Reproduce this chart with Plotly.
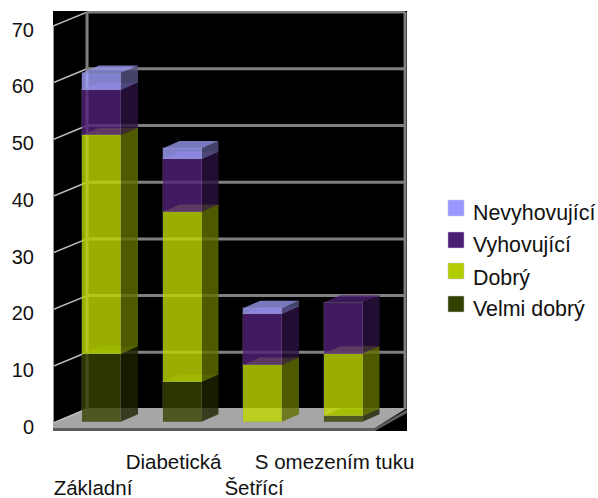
import plotly.graph_objects as go

# Diet types and their stacked ratings
categories = ["Základní", "Diabetická", "Šetřící", "S omezením tuku"]
tick_labels = ["<br>Základní", "Diabetická", "<br>Šetřící", "S omezením tuku"]
velmi_dobry = [12, 7, 0, 1]
dobry = [38.5, 30, 10, 11]
vyhovujici = [8, 9.3, 9, 9]
nevyhovujici = [3, 1.9, 1, 0]
y_ticks = [0, 10, 20, 30, 40, 50, 60, 70]

series_names = ["Velmi dobrý", "Dobrý", "Vyhovující", "Nevyhovující"]
series_values = [velmi_dobry, dobry, vyhovujici, nevyhovujici]
series_rgb = [(54, 68, 0), (191, 218, 0), (81, 33, 122), (162, 162, 255)]
legend_rgb = [(51, 64, 0), (179, 204, 0), (75, 31, 115), (153, 153, 255)]

FACE_ALPHA = 0.8
GRID = "rgb(127,127,127)"

# Pseudo-3D geometry, in axis units
X_MIN, X_MAX = -0.497, 3.9
V_MIN, V_MAX = -1.64, 72.43
WALL_X, WALL_V = 0.4225, 2.47
FRONT_V = -0.23
BACK_V = FRONT_V + WALL_V
BACK_LEFT = X_MIN + WALL_X
BACK_RIGHT = 3.876
FLOOR_RIGHT = 3.503
FLOOR_FRONT = -1.11
BAR_SHIFT, BAR_WIDTH = 0.1056, 0.484
BAR_DX, BAR_DV = 0.211, 1.32


def rgba(rgb, factor=1.0, alpha=1.0):
    r, g, b = (int(c * factor) for c in rgb)
    return f"rgba({r},{g},{b},{alpha})"


def polygon(points, fill, line="rgba(0,0,0,0)", width=0):
    path = "M" + " L".join(f"{x},{y}" for x, y in points) + " Z"
    return dict(type="path", path=path, xref="x", yref="y", layer="below",
                fillcolor=fill, line=dict(color=line, width=width))


def segment(x0, x1, y0, y1, color, width, layer="below"):
    return dict(type="line", x0=x0, x1=x1, y0=y0, y1=y1, xref="x", yref="y",
                layer=layer, line=dict(color=color, width=width))


shapes = []

# Floor slab
shapes.append(polygon([(X_MIN, FRONT_V), (BACK_LEFT, BACK_V + 0.18), (X_MAX, BACK_V + 0.18),
                       (FLOOR_RIGHT, FLOOR_FRONT), (X_MIN, FLOOR_FRONT)], "rgb(166,166,166)"))
shapes.append(polygon([(X_MIN, FLOOR_FRONT), (FLOOR_RIGHT, FLOOR_FRONT), (X_MAX, BACK_V - 0.1),
                       (X_MAX, BACK_V - 0.7), (FLOOR_RIGHT, V_MIN), (X_MIN, V_MIN)], "rgb(92,92,92)"))

# Back wall grid and side wall grid
for t in y_ticks[1:]:
    shapes.append(segment(BACK_LEFT, BACK_RIGHT, t + BACK_V, t + BACK_V, GRID, 3))
for t in y_ticks:
    shapes.append(segment(X_MIN, BACK_LEFT, t + FRONT_V, t + BACK_V, "rgb(190,190,190)", 1.5))
shapes.append(segment(BACK_LEFT, BACK_LEFT, BACK_V, 70 + BACK_V, GRID, 3))
shapes.append(segment(BACK_RIGHT, BACK_RIGHT, BACK_V, 70 + BACK_V, GRID, 3))
shapes.append(segment(X_MIN, X_MIN, FRONT_V, 70 + FRONT_V, "rgb(150,150,150)", 2))

# Side and top faces of each stacked block sit behind the front faces
bar_x = [i + BAR_SHIFT for i in range(len(categories))]
for i, x in enumerate(bar_x):
    left, right = x - BAR_WIDTH / 2, x + BAR_WIDTH / 2
    base = 0
    for values, rgb in zip(series_values, series_rgb):
        v = values[i]
        if v == 0:
            continue
        top = base + v
        shapes.append(polygon([(right, base), (right + BAR_DX, base + BAR_DV),
                               (right + BAR_DX, top + BAR_DV), (right, top)],
                              rgba(rgb, 0.52, FACE_ALPHA)))
        shapes.append(polygon([(left, top), (right, top), (right + BAR_DX, top + BAR_DV),
                               (left + BAR_DX, top + BAR_DV)],
                              rgba(rgb, 0.92, FACE_ALPHA)))
        base = top

fig = go.Figure()
for name, values, rgb in zip(series_names, series_values, series_rgb):
    fig.add_trace(go.Bar(
        x=bar_x, y=values, name=name, width=BAR_WIDTH,
        marker=dict(color=rgba(rgb, 1, FACE_ALPHA),
                    line=dict(color="rgba(140,140,140,0.25)", width=1)),
        showlegend=False, hoverinfo="skip",
    ))

# Legend, top entry first
LEGEND_TOP = [200, 232, 263, 296]
LEGEND_TEXT_Y = [213, 245, 278, 309]
annotations = []
for name, rgb, py, ty in zip(series_names[::-1], legend_rgb[::-1], LEGEND_TOP, LEGEND_TEXT_Y):
    shapes.append(dict(type="rect", xref="paper", yref="paper",
                       x0=(448 - 53) / 354, x1=(464 - 53) / 354,
                       y0=(431 - py - 16) / 420, y1=(431 - py) / 420,
                       fillcolor=rgba(rgb), line=dict(color="rgba(200,200,220,0.5)", width=1)))
    annotations.append(dict(text=name, xref="paper", yref="paper", showarrow=False,
                            x=(471 - 53) / 354, xanchor="left",
                            y=(431 - ty) / 420, yanchor="middle",
                            font=dict(family="Liberation Sans", size=21.4, color="#111111")))

fig.update_layout(
    width=598, height=498, autosize=False,
    margin=dict(l=53, r=191, t=11, b=67, pad=0, autoexpand=False),
    paper_bgcolor="white", plot_bgcolor="black",
    barmode="stack", bargap=0, showlegend=False,
    shapes=shapes, annotations=annotations,
    font=dict(family="Liberation Sans", color="#111111"),
    xaxis=dict(range=[X_MIN, X_MAX], tickmode="array",
               tickvals=list(range(len(categories))), ticktext=tick_labels,
               tickangle=0, automargin=False,
               tickfont=dict(size=20.5), ticks="outside", ticklen=12,
               tickcolor="rgba(0,0,0,0)", showgrid=False, zeroline=False, showline=False,
               fixedrange=True),
    yaxis=dict(range=[V_MIN, V_MAX], tickmode="array", tickvals=y_ticks,
               automargin=False, ticklabelshift=5,
               tickfont=dict(size=20), ticks="outside", ticklen=14,
               tickcolor="rgba(0,0,0,0)", showgrid=False, zeroline=False, showline=False,
               fixedrange=True),
)

fig.write_html("out.html", config=dict(displayModeBar=False))
